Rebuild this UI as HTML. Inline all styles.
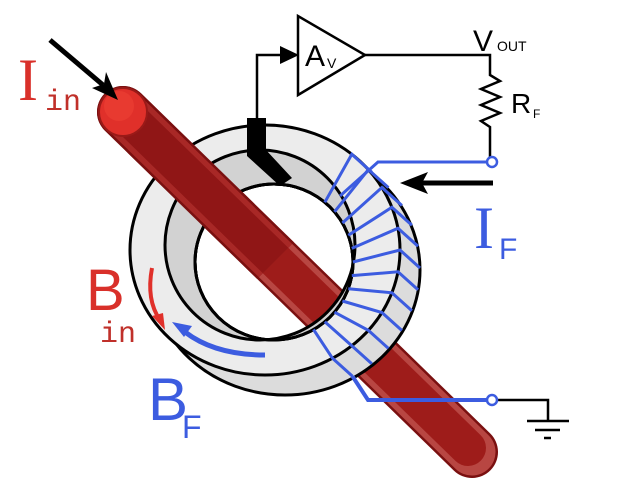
<!DOCTYPE html>
<html><head><meta charset="utf-8"><style>html,body{margin:0;padding:0;background:#fff}svg{display:block}</style></head><body>
<svg width="640" height="504" viewBox="0 0 640 504" xmlns="http://www.w3.org/2000/svg">
<defs>
<clipPath id="front"><polygon points="0,0 536,0 0,536"/></clipPath>
</defs>
<!-- circuit -->
<g stroke="#000" stroke-width="2.5" fill="none">
<polyline points="257,122 257,55 292,55"/>
<polygon points="298,16 298,95 365,55" fill="#fff"/>
<polyline points="365,55 490,55 490,75 500,81 481,89 500,97 481,105 500,113 481,121 490,127 490,158"/>
<polyline points="497,400 548,400 548,421"/>
<line x1="527" y1="421" x2="569" y2="421"/>
<line x1="535" y1="430" x2="560" y2="430"/>
<line x1="544" y1="438" x2="551" y2="438"/>
</g>
<path d="M280,46 L299,55 L280,64 z" fill="#000"/>
<text x="305" y="66" font-family="Liberation Sans, sans-serif" font-size="30">A</text>
<text x="327" y="68" font-family="Liberation Sans, sans-serif" font-size="14">V</text>
<text x="473" y="51" font-family="Liberation Sans, sans-serif" font-size="30">V</text>
<text x="497" y="51" font-family="Liberation Sans, sans-serif" font-size="14">OUT</text>
<text x="511" y="113" font-family="Liberation Sans, sans-serif" font-size="28">R</text>
<text x="533" y="118" font-family="Liberation Sans, sans-serif" font-size="12">F</text>
<!-- rod back -->
<line x1="123" y1="112" x2="472" y2="452" stroke="#7a1010" stroke-width="52" stroke-linecap="round"/>
<line x1="123" y1="112" x2="472" y2="452" stroke="#b84642" stroke-width="47" stroke-linecap="round"/>
<line x1="119" y1="108" x2="468" y2="448" stroke="#9e1c1a" stroke-width="36" stroke-linecap="round"/>
<!-- toroid -->
<path fill-rule="evenodd" fill="#dcdcdc" stroke="#000" stroke-width="3" d="M150,270 a135,125 0 1,0 270,0 a135,125 0 1,0 -270,0 z M195,262 a79,78 0 1,0 158,0 a79,78 0 1,0 -158,0 z"/>
<path fill-rule="evenodd" fill="#ececec" stroke="#000" stroke-width="3" d="M130,250 a135,125 0 1,0 270,0 a135,125 0 1,0 -270,0 z M195,262 a79,78 0 1,0 158,0 a79,78 0 1,0 -158,0 z"/>
<path fill-rule="evenodd" fill="#d2d2d2" stroke="#000" stroke-width="3" d="M165,245 a95,95 0 1,0 190,0 a95,95 0 1,0 -190,0 z M195,262 a79,78 0 1,0 158,0 a79,78 0 1,0 -158,0 z"/>
<ellipse cx="274" cy="262" rx="79" ry="78" fill="none" stroke="#000" stroke-width="3"/>
<!-- black connection block -->
<path d="M247,118 L266,118 L266,150 L292,178 L280,186 L247,156 z" fill="#000"/>
<!-- rod front -->
<g clip-path="url(#front)">
<line x1="123" y1="112" x2="472" y2="452" stroke="#7a1010" stroke-width="52" stroke-linecap="round"/>
<line x1="123" y1="112" x2="472" y2="452" stroke="#a82826" stroke-width="47" stroke-linecap="round"/>
<line x1="119" y1="108" x2="468" y2="448" stroke="#901616" stroke-width="36" stroke-linecap="round"/>
</g>
<circle cx="123" cy="112" r="24" fill="#e0302a" stroke="#9a1a18" stroke-width="2"/>
<circle cx="119" cy="106" r="15" fill="#e83a30"/>
<!-- windings -->
<g stroke="#3c5ce0" stroke-width="3" fill="none">
<polyline points="324.8,202.3 351.8,154.3 371.8,172.3"/>
<polyline points="334.5,211.8 368.4,169.6 388.4,187.6"/>
<polyline points="342.4,223 381.9,187.5 401.9,205.5"/>
<polyline points="348.3,235.3 391.9,207.3 411.9,225.3"/>
<polyline points="351.8,248.4 398,228.3 418,246.3"/>
<polyline points="353,262 400,250 420,268"/>
<polyline points="351.8,275.6 398,271.8 418,289.8"/>
<polyline points="348.3,288.7 391.9,292.8 411.9,310.8"/>
<polyline points="342.4,301 381.9,312.5 401.9,330.5"/>
<polyline points="334.5,312.2 368.4,330.4 388.4,348.4"/>
<polyline points="324.8,321.8 351.8,345.8 371.8,363.8"/>
<polyline points="313.5,329.5 332.5,358.3 352.5,376.3"/>
<polyline points="487,162 378,162 340,196"/>
<polyline points="352.5,376.3 368,400 487,400" stroke-width="4"/>
<circle cx="492" cy="162" r="5" stroke-width="2.5"/>
<circle cx="492" cy="400" r="5" stroke-width="2.5"/>
</g>
<!-- arrows -->
<line x1="493" y1="183" x2="420" y2="183" stroke="#000" stroke-width="5"/>
<path d="M400,183 L428,172 L422,183 L428,194 z" fill="#000"/>
<line x1="50" y1="40" x2="103" y2="85" stroke="#000" stroke-width="5"/>
<path d="M118,100 L92,88 L104,84 L106,72 z" fill="#000"/>
<path d="M152,268 Q146,300 160,320" stroke="#e0302a" stroke-width="4" fill="none"/>
<path d="M165,330 L152,316 L163,313 z" fill="#e0302a"/>
<path d="M265,355 Q215,355 185,332" stroke="#3c5ce0" stroke-width="5" fill="none"/>
<path d="M172,322 L192,326 L184,337 z" fill="#3c5ce0"/>
<!-- labels -->
<text x="18" y="100" font-family="Liberation Serif, serif" font-size="60" fill="#d9302a">I</text>
<text x="45" y="110" font-family="Liberation Mono, monospace" font-size="30" fill="#c0302a">in</text>
<text x="86" y="310" font-family="Liberation Sans, sans-serif" font-size="58" fill="#d9302a">B</text>
<text x="100" y="342" font-family="Liberation Mono, monospace" font-size="30" fill="#c0302a">in</text>
<text x="148" y="420" font-family="Liberation Sans, sans-serif" font-size="60" fill="#3c5ce0">B</text>
<text x="182" y="438" font-family="Liberation Sans, sans-serif" font-size="32" fill="#3c5ce0">F</text>
<text x="474" y="248" font-family="Liberation Serif, serif" font-size="60" fill="#3c5ce0">I</text>
<text x="499" y="259" font-family="Liberation Sans, sans-serif" font-size="30" fill="#3c5ce0">F</text>
</svg>
</body></html>
